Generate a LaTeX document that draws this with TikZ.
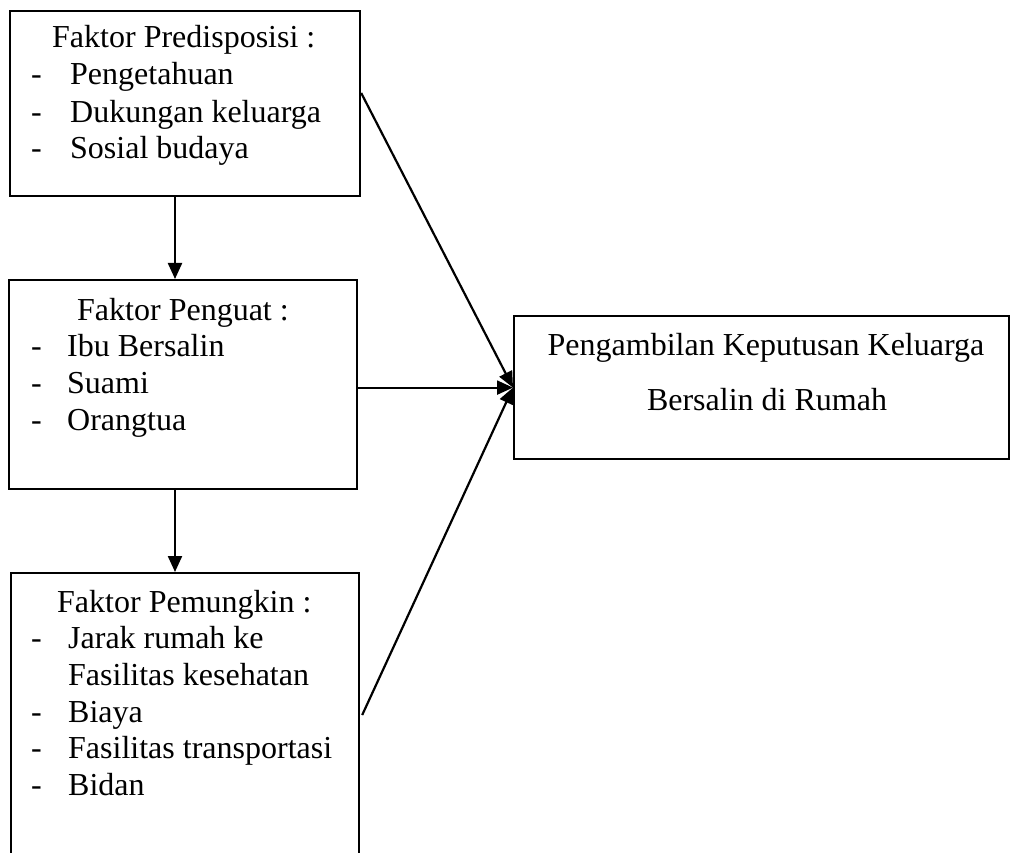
\documentclass[tikz,border=0pt]{standalone}
\usepackage{fontspec}
\setmainfont{Liberation Serif}
\usetikzlibrary{arrows.meta,calc}
\begin{document}
\begin{tikzpicture}[x=1pt,y=-1pt,
  box/.style={draw, line width=2.2pt, anchor=north west, inner sep=0pt},
  txt/.style={anchor=base west, inner sep=0pt, font=\fontsize{32}{37}\selectfont},
  ctxt/.style={anchor=base, inner sep=0pt, font=\fontsize{32}{37}\selectfont},
  arr/.style={line width=2.2pt, -{Triangle[length=16pt,width=14pt]}}]
\clip (0,0) rectangle (1010,853);
% boxes
\node[box, minimum width=350pt, minimum height=185pt] (b1) at (9,10) {};
\node[box, minimum width=348pt, minimum height=209pt] (b2) at (8,279) {};
\node[box, minimum width=348pt, minimum height=320pt] (b3) at (10,572) {};
\node[box, minimum width=495pt, minimum height=143pt] (b4) at (513,315) {};
% box 1 text
\node[txt] (t1) at (52,48) {Faktor Predisposisi :};
\node[txt] (d11) at (31,85) {-};
\node[txt] (i11) at (70,85) {Pengetahuan};
\node[txt] (d12) at (31,123) {-};
\node[txt] (i12) at (70,123) {Dukungan keluarga};
\node[txt] (d13) at (31,159) {-};
\node[txt] (i13) at (70,159) {Sosial budaya};
% box 2 text
\node[txt] (t2) at (77,320) {Faktor Penguat :};
\node[txt] (d21) at (31,356) {-};
\node[txt] (i21) at (67,356) {Ibu Bersalin};
\node[txt] (d22) at (31,393) {-};
\node[txt] (i22) at (67,393) {Suami};
\node[txt] (d23) at (31,430) {-};
\node[txt] (i23) at (67,430) {Orangtua};
% box 3 text
\node[txt] (t3) at (57,612) {Faktor Pemungkin :};
\node[txt] (d31) at (31,648) {-};
\node[txt] (i31) at (68,648) {Jarak rumah ke};
\node[txt] (i31b) at (68,685) {Fasilitas kesehatan};
\node[txt] (d32) at (31,722) {-};
\node[txt] (i32) at (68,722) {Biaya};
\node[txt] (d33) at (31,758) {-};
\node[txt] (i33) at (68,758) {Fasilitas transportasi};
\node[txt] (d34) at (31,795) {-};
\node[txt] (i34) at (68,795) {Bidan};
% box 4 text
\node[ctxt] (t4a) at (766,355) {Pengambilan Keputusan Keluarga};
\node[ctxt] (t4b) at (767,410) {Bersalin di Rumah};
% connectors
\coordinate (vx) at (175,0);
\coordinate (s1) at ($(b1.north east)+(0,83)$);
\coordinate (s3) at ($(b3.north east)+(2,143)$);
\draw[arr] (b1.south -| vx) -- (b2.north -| vx);
\draw[arr] (b2.south -| vx) -- (b3.north -| vx);
\draw[arr] (s1) -- (b4.west);
\draw[arr] (b2.east |- b4.west) -- (b4.west);
\draw[arr] (s3) -- (b4.west);
\end{tikzpicture}
\end{document}
